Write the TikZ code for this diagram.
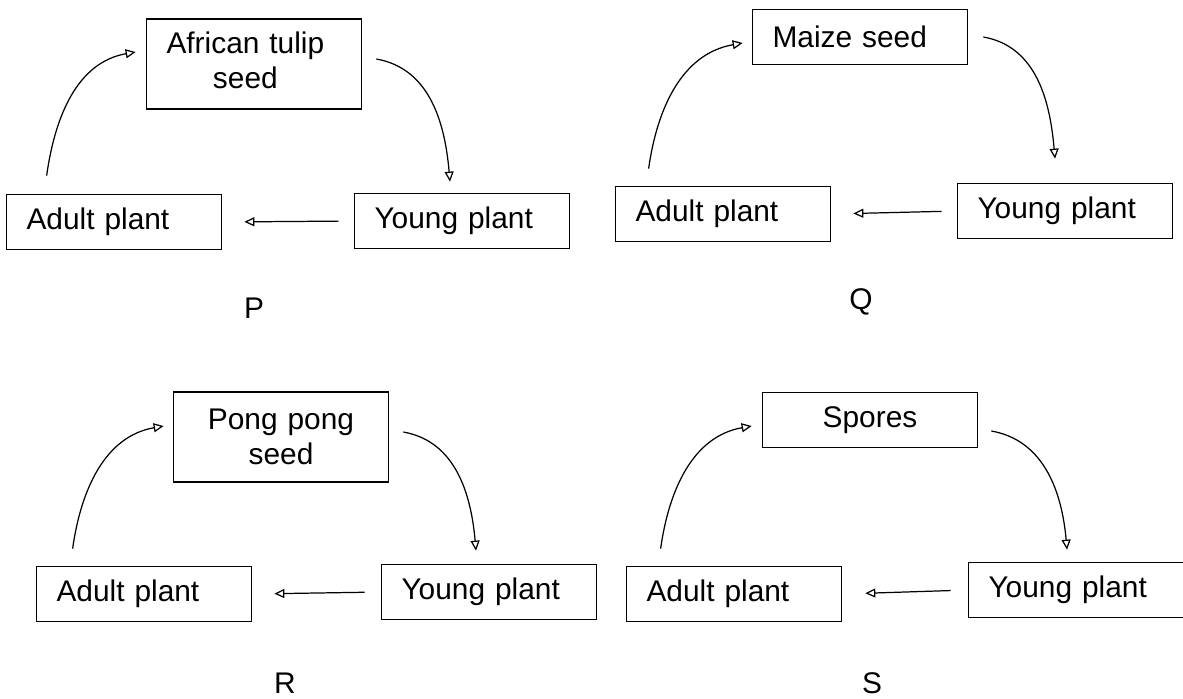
\documentclass[tikz,border=0pt]{standalone}
\usepackage{fontspec}
\setmainfont{Liberation Sans}
\usetikzlibrary{arrows.meta}

\tikzset{
  box/.style = {draw, line width=1pt, minimum height=1.1cm, text width=3.5cm,
    inner xsep=0.4cm, inner ysep=0pt, align=left, font=\fontsize{17}{20}\selectfont},
  midbox/.style = {box, align=center},
  tallbox/.style = {minimum height=1.8cm},
  panel/.style = {font=\fontsize{17}{20}\selectfont},
  >={Triangle[open, length=2mm, width=1.8mm]}
}

\begin{document}
\begin{tikzpicture}[x=0.02cm, y=-0.02cm, line width=0.7pt]
  \useasboundingbox (0, 0) rectangle (1183, 698);
  % P
  \node [box, tallbox] (PT) at (254, 64) {\begin{tabular}{@{}c@{}}African tulip\\seed\end{tabular}};
  \node [box] (PL) at (114, 222) {Adult plant};
  \node [box] (PR) at (462, 221) {Young plant};
  \node [panel] (P) at (254, 308) {P};
  \draw [->] ([xshift=0.82cm, yshift=0.36cm]PL.north west) to [out = 82, in = 190] ([xshift=-0.2cm, yshift=0.24cm]PT.west);
  \draw [->] ([xshift=0.28cm, yshift=0.1cm]PT.east) to [out = -10, in = 95] ([xshift=-0.24cm, yshift=0.22cm]PR.north);
  \draw [->, shorten <=0.3cm, shorten >=0.44cm] (PR.west) -- (PL.east);
  % Q
  \node [box] (QT) at (860, 37) {Maize seed};
  \node [box] (QL) at (723, 214) {Adult plant};
  \node [box] (QR) at (1065, 211) {Young plant};
  \node [panel] (Q) at (861, 302) {Q};
  \draw [->] ([xshift=0.68cm, yshift=0.34cm]QL.north west) to [out = 82, in = 190] ([xshift=-0.18cm, yshift=-0.12cm]QT.west);
  \draw [->] ([xshift=0.3cm]QT.east) to [out = -10, in = 95] ([xshift=-0.2cm, yshift=0.48cm]QR.north);
  \draw [->, shorten <=0.3cm, shorten >=0.44cm] (QR.west) -- (QL.east);
  % R
  \node [midbox, tallbox] (RT) at (281, 437) {Pong pong\\seed};
  \node [box] (RL) at (144, 594) {Adult plant};
  \node [box] (RR) at (489, 592) {Young plant};
  \node [panel] (R) at (285, 683) {R};
  \draw [->] ([xshift=0.74cm, yshift=0.34cm]RL.north west) to [out = 82, in = 190] ([xshift=-0.18cm, yshift=0.22cm]RT.west);
  \draw [->] ([xshift=0.28cm, yshift=0.1cm]RT.east) to [out = -10, in = 95] ([xshift=-0.26cm, yshift=0.26cm]RR.north);
  \draw [->, shorten <=0.32cm, shorten >=0.44cm] (RR.west) -- (RL.east);
  % S
  \node [midbox] (ST) at (870, 420) {Spores};
  \node [box] (SL) at (734, 594) {Adult plant};
  \node [box] (SR) at (1076, 590) {Young plant};
  \node [panel] (S) at (872, 683) {S};
  \draw [->] ([xshift=0.7cm, yshift=0.34cm]SL.north west) to [out = 82, in = 190] ([xshift=-0.2cm, yshift=-0.12cm]ST.west);
  \draw [->] ([xshift=0.26cm, yshift=-0.22cm]ST.east) to [out = -10, in = 95] ([xshift=-0.18cm, yshift=0.24cm]SR.north);
  \draw [->, shorten <=0.34cm, shorten >=0.46cm] (SR.west) -- (SL.east);
\end{tikzpicture}
\end{document}
